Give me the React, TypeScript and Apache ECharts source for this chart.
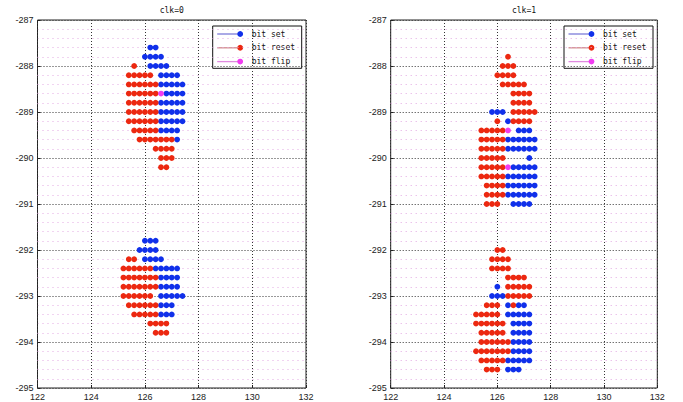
import React, { useEffect, useRef } from "react";
import * as echarts from "echarts";

type Row = [number, number[]];

const xTicks = { min: 122, max: 132, step: 2 };
const yTicks = { min: -295, max: -287, step: 1 };
const titles = ["clk=0", "clk=1"];
const seriesNames = ["bit set", "bit reset", "bit flip"];

// clk=0 : rows of [y, x-values]
const clk0Set: Row[] = [
  [-287.6, [126.2, 126.4]],
  [-287.8, [126.0, 126.2, 126.4, 126.6]],
  [-288.0, [126.2, 126.4, 126.6, 126.8]],
  [-288.2, [126.6, 126.8, 127.0, 127.2]],
  [-288.4, [126.6, 126.8, 127.0, 127.2, 127.4]],
  [-288.6, [126.8, 127.0, 127.2, 127.4]],
  [-288.8, [126.6, 126.8, 127.0, 127.2, 127.4]],
  [-289.0, [126.6, 126.8, 127.0, 127.2, 127.4]],
  [-289.2, [126.6, 126.8, 127.0, 127.2, 127.4]],
  [-289.4, [126.6, 126.8, 127.0, 127.2]],
  [-289.6, [127.2]],
  [-291.8, [126.0, 126.2, 126.4]],
  [-292.0, [125.8, 126.0, 126.2, 126.4]],
  [-292.2, [126.0, 126.2, 126.4, 126.6]],
  [-292.4, [126.4, 126.6, 126.8, 127.0, 127.2]],
  [-292.6, [126.6, 126.8, 127.0, 127.2]],
  [-292.8, [126.6, 126.8, 127.0, 127.2]],
  [-293.0, [126.6, 126.8, 127.0, 127.2, 127.4]],
  [-293.2, [126.6, 126.8, 127.0]],
  [-293.4, [126.6, 126.8, 127.0]],
];

const clk0Reset: Row[] = [
  [-288.0, [125.6]],
  [-288.2, [125.4, 125.6, 125.8, 126.0, 126.2]],
  [-288.4, [125.4, 125.6, 125.8, 126.0, 126.2, 126.4]],
  [-288.6, [125.4, 125.6, 125.8, 126.0, 126.2, 126.4]],
  [-288.8, [125.4, 125.6, 125.8, 126.0, 126.2, 126.4]],
  [-289.0, [125.4, 125.6, 125.8, 126.0, 126.2, 126.4]],
  [-289.2, [125.4, 125.6, 125.8, 126.0, 126.2, 126.4]],
  [-289.4, [125.6, 125.8, 126.0, 126.2, 126.4]],
  [-289.6, [125.8, 126.0, 126.2, 126.4, 126.6, 126.8, 127.0]],
  [-289.8, [126.4, 126.6, 126.8, 127.0]],
  [-290.0, [126.6, 126.8, 127.0]],
  [-290.2, [126.6, 126.8]],
  [-292.2, [125.4, 125.6]],
  [-292.4, [125.2, 125.4, 125.6, 125.8, 126.0, 126.2]],
  [-292.6, [125.2, 125.4, 125.6, 125.8, 126.0, 126.2, 126.4]],
  [-292.8, [125.2, 125.4, 125.6, 125.8, 126.0, 126.2, 126.4]],
  [-293.0, [125.2, 125.4, 125.6, 125.8, 126.0, 126.2]],
  [-293.2, [125.4, 125.6, 125.8, 126.0, 126.2, 126.4]],
  [-293.4, [125.6, 125.8, 126.0, 126.2, 126.4]],
  [-293.6, [126.2, 126.4, 126.6, 126.8]],
  [-293.8, [126.4, 126.6, 126.8]],
];

const clk0Flip: Row[] = [[-288.6, [126.6]]];

// clk=1
const clk1Set: Row[] = [
  [-289.0, [125.8, 126.0, 126.2]],
  [-289.2, [126.4]],
  [-289.4, [126.8, 127.0, 127.2]],
  [-289.6, [126.4, 126.6, 126.8, 127.0, 127.2, 127.4]],
  [-289.8, [126.4, 126.6, 126.8, 127.0, 127.2, 127.4]],
  [-290.0, [127.2]],
  [-290.2, [126.6, 126.8, 127.0, 127.2, 127.4]],
  [-290.4, [126.4, 126.6, 126.8, 127.0, 127.2, 127.4]],
  [-290.6, [126.4, 126.6, 126.8, 127.0, 127.2, 127.4]],
  [-290.8, [126.4, 126.6, 126.8, 127.0, 127.2, 127.4]],
  [-291.0, [126.6, 126.8, 127.0, 127.2]],
  [-292.8, [126.0]],
  [-293.0, [125.8, 126.0, 126.2]],
  [-293.2, [126.4, 126.8, 127.0]],
  [-293.4, [126.4, 126.6, 126.8, 127.0, 127.2]],
  [-293.6, [126.6, 126.8, 127.0, 127.2]],
  [-293.8, [126.6, 126.8, 127.0, 127.2]],
  [-294.0, [126.6, 126.8, 127.0, 127.2]],
  [-294.2, [126.6, 126.8, 127.0, 127.2]],
  [-294.4, [126.4, 126.6, 126.8, 127.0, 127.2]],
  [-294.6, [126.4, 126.6, 126.8]],
];

const clk1Reset: Row[] = [
  [-287.8, [126.4]],
  [-288.0, [126.2, 126.4, 126.6]],
  [-288.2, [126.0, 126.2, 126.4, 126.6]],
  [-288.4, [126.2, 126.4, 126.6, 126.8, 127.0]],
  [-288.6, [126.6, 126.8, 127.0, 127.2]],
  [-288.8, [126.6, 126.8, 127.0, 127.2]],
  [-289.0, [126.6, 126.8, 127.0, 127.2, 127.4]],
  [-289.2, [126.0, 126.6, 126.8, 127.0, 127.2]],
  [-289.4, [125.4, 125.6, 125.8, 126.0, 126.2]],
  [-289.6, [125.4, 125.6, 125.8, 126.0, 126.2]],
  [-289.8, [125.4, 125.6, 125.8, 126.0, 126.2]],
  [-290.0, [125.4, 125.6, 125.8, 126.0, 126.2]],
  [-290.2, [125.4, 125.6, 125.8, 126.0, 126.2]],
  [-290.4, [125.4, 125.6, 125.8, 126.0, 126.2]],
  [-290.6, [125.6, 125.8, 126.0, 126.2]],
  [-290.8, [125.6, 125.8, 126.0, 126.2]],
  [-291.0, [125.6, 125.8, 126.0]],
  [-292.0, [126.0, 126.2]],
  [-292.2, [125.8, 126.0, 126.2, 126.4]],
  [-292.4, [125.8, 126.0, 126.2, 126.4]],
  [-292.6, [126.4, 126.6, 126.8, 127.0]],
  [-292.8, [126.4, 126.6, 126.8, 127.0, 127.2]],
  [-293.0, [126.4, 126.6, 126.8, 127.0, 127.2]],
  [-293.2, [125.6, 125.8, 126.0, 126.6]],
  [-293.4, [125.2, 125.4, 125.6, 125.8, 126.0]],
  [-293.6, [125.2, 125.4, 125.6, 125.8, 126.0, 126.2]],
  [-293.8, [125.4, 125.6, 125.8, 126.0, 126.2]],
  [-294.0, [125.4, 125.6, 125.8, 126.0, 126.2, 126.4]],
  [-294.2, [125.2, 125.4, 125.6, 125.8, 126.0, 126.2, 126.4]],
  [-294.4, [125.4, 125.6, 125.8, 126.0, 126.2]],
  [-294.6, [125.6, 125.8, 126.0]],
];

const clk1Flip: Row[] = [
  [-289.4, [126.4]],
  [-290.2, [126.4]],
];

const panels = [
  { set: clk0Set, reset: clk0Reset, flip: clk0Flip },
  { set: clk1Set, reset: clk1Reset, flip: clk1Flip },
];

const toPoints = (rows: Row[]) =>
  rows.flatMap(([y, xs]) => xs.map((x) => [x, y]));

const DOT = ["#1030ea", "#ec2810", "#f03cf0"];
const LEG_LINE = ["#7c7cd8", "#d08a8a", "#e08ae0"];
const GRIDS = [
  { left: 37.5, top: 20, width: 268.5, height: 368 },
  { left: 390.7, top: 20, width: 266.6, height: 368 },
];
const LABEL_FONT = "Liberation Sans";
const MONO_FONT = "DejaVu Sans Mono";

export default function App() {
  const ref = useRef<HTMLDivElement>(null);

  useEffect(() => {
    if (!ref.current) return;
    const chart = echarts.init(ref.current, undefined, { renderer: "svg" });

    const graphic: any[] = [];
    GRIDS.forEach((g, i) => {
      graphic.push({
        type: "text",
        x: g.left + g.width / 2,
        y: 10,
        z: 50,
        style: {
          text: titles[i],
          fill: "#111",
          font: `8px '${MONO_FONT}'`,
          align: "center",
          verticalAlign: "middle",
        },
      });
      const bw = 89;
      const bh = 42.3;
      const bx = g.left + g.width - 4.3 - bw;
      const by = 26;
      const children: any[] = [
        {
          type: "rect",
          shape: { x: bx, y: by, width: bw, height: bh },
          style: { fill: "#fff", stroke: "#111", lineWidth: 1 },
        },
      ];
      seriesNames.forEach((name, k) => {
        const yk = by + 8 + k * 13.8;
        children.push({
          type: "line",
          shape: { x1: bx + 4.5, y1: yk, x2: bx + 27.5, y2: yk },
          style: { stroke: LEG_LINE[k], lineWidth: 1.3 },
        });
        children.push({
          type: "circle",
          shape: { cx: bx + 27.5, cy: yk, r: 2.9 },
          style: { fill: DOT[k] },
        });
        children.push({
          type: "text",
          x: bx + 39,
          y: yk,
          style: {
            text: name,
            fill: "#111",
            font: `8px '${MONO_FONT}'`,
            align: "left",
            verticalAlign: "middle",
          },
        });
      });
      graphic.push({ type: "group", z: 60, children });
    });

    const series: any[] = [];
    panels.forEach((p, i) => {
      [p.set, p.reset, p.flip].forEach((rows, k) => {
        series.push({
          type: "scatter",
          name: seriesNames[k],
          xAxisIndex: i,
          yAxisIndex: i,
          symbol: "circle",
          symbolSize: 5.8,
          itemStyle: { color: DOT[k], opacity: 1 },
          data: toPoints(rows),
          z: 5,
        });
      });
    });

    const dotted = { color: "#333", type: [1, 2], width: 1 };

    chart.setOption({
      animation: false,
      backgroundColor: "#fff",
      grid: GRIDS.map((g) => ({
        ...g,
        show: true,
        borderColor: "#222",
        borderWidth: 1,
        backgroundColor: "#fff",
        containLabel: false,
      })),
      xAxis: GRIDS.map((_, i) => ({
        type: "value",
        gridIndex: i,
        min: xTicks.min,
        max: xTicks.max,
        interval: xTicks.step,
        axisLine: { show: false },
        axisTick: { show: true, inside: true, length: 3, lineStyle: { color: "#222" } },
        axisLabel: { color: "#222", fontSize: 9, fontFamily: LABEL_FONT, margin: 4 },
        splitLine: { show: true, lineStyle: dotted },
      })),
      yAxis: GRIDS.map((_, i) => ({
        type: "value",
        gridIndex: i,
        min: yTicks.min,
        max: yTicks.max,
        interval: yTicks.step,
        axisLine: { show: false },
        axisTick: { show: true, inside: true, length: 3, lineStyle: { color: "#222" } },
        axisLabel: { color: "#222", fontSize: 9, fontFamily: LABEL_FONT, margin: 4 },
        splitLine: { show: true, lineStyle: dotted },
        minorTick: { show: false, splitNumber: 5 },
        minorSplitLine: {
          show: true,
          lineStyle: { color: "#e2a8e2", type: [1, 4], width: 1 },
        },
      })),
      series,
      graphic,
    });

    return () => chart.dispose();
  }, []);

  return (
    <div
      ref={ref}
      style={{ position: "fixed", left: 0, top: 0, width: 683, height: 402, background: "#fff" }}
    />
  );
}
